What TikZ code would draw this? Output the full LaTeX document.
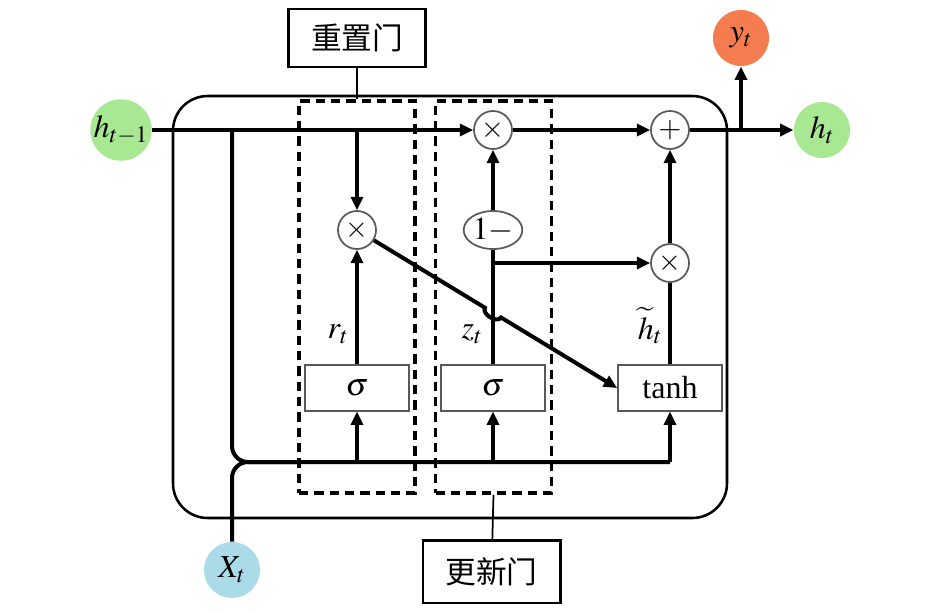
\documentclass[tikz,border=0pt]{standalone}
\usepackage{mathptmx}
\usepackage{fontspec}
\setmainfont{Liberation Serif}
\newfontfamily\cjk{Noto Sans CJK SC}
\usetikzlibrary{arrows.meta,calc,shapes.geometric}

\definecolor{hgreen}{RGB}{168,232,146}
\definecolor{yorange}{RGB}{244,124,78}
\definecolor{xblue}{RGB}{170,219,233}

\tikzset{every picture/.style={line width=0.75pt}}
\tikzset{
  flow/.style={line width=3pt},
  arr/.style={flow,-{Triangle[length=10pt,width=9pt]}},
  opcirc/.style={circle,draw=black!65,fill=white,line width=1.3pt,minimum size=28.5pt,inner sep=0pt,font=\fontsize{22}{22}\selectfont},
  iocirc/.style={circle,minimum size=42pt,inner sep=0pt,font=\fontsize{24}{26}\selectfont},
  actbox/.style={rectangle,draw=black!65,fill=white,line width=1.3pt,minimum width=78pt,minimum height=34pt,inner sep=0pt,font=\fontsize{24}{26}\selectfont},
  gatebox/.style={rectangle,draw,dash pattern=on 7pt off 4.5pt,line width=2.6pt,minimum width=87pt,minimum height=294pt,inner sep=0pt},
  namebox/.style={rectangle,draw,line width=2pt,minimum width=103pt,inner sep=0pt,font=\cjk\fontsize{23}{25}\selectfont},
  sublbl/.style={inner sep=0.75pt,font=\fontsize{24}{26}\selectfont},
}

\begin{document}
\begin{tikzpicture}[x=0.75pt,y=0.75pt,yscale=-1,xscale=1]
\useasboundingbox (0,0) rectangle (945,612);

%Shape: Rounded Rect [cell]
\draw[line width=1.9pt, rounded corners=26pt] (173,96) rectangle (727,518);

%Shape: dashed gate areas
\node[gatebox] (rgate) at (357,297) {};
\node[gatebox] (zgate) at (493.5,297) {};

%Shape: Circle [inputs / outputs]
\node[iocirc, fill=hgreen] (hprev) at (121,130) {$h_{t-1}$};
\node[iocirc, fill=hgreen] (hcur) at (822,130) {$h_t$};
\node[iocirc, fill=yorange] (yout) at (741,38) {$y_t$};
\node[iocirc, fill=xblue] (xin) at (232,570) {$X_t$};

%Shape: Circle [operators]
\node[opcirc] (mulr) at (357,230) {$\times$};
\node[opcirc] (mulz) at (493,130) {$\times$};
\node[opcirc] (addh) at (670,130) {$+$};
\node[opcirc] (mulh) at (670,263) {$\times$};
%Shape: Ellipse
\node[ellipse, draw=black!65, fill=white, line width=1.3pt, minimum width=44pt, minimum height=28.5pt, inner sep=0pt, font=\fontsize{24}{26}\selectfont] (omz) at (493,230) {$1-$};

%Shape: Rectangle [activations]
\node[actbox] (sigr) at (357,388) {$\sigma$};
\node[actbox] (sigz) at (493,388) {$\sigma$};
\node[actbox] (tanhb) at (670,388) {tanh};

%Shape: Rectangle [gate names]
\node[namebox, minimum height=43.5pt] (resetlbl) at (357,38) {重置门};
\node[namebox, minimum height=47pt] (updatelbl) at (491.5,571.5) {更新门};

\coordinate (j1) at (232,130);
\coordinate (bus) at (670,462);
\coordinate (busx) at (300,462);

%Straight Lines [h_{t-1} path]
\draw[arr] (hprev) -- (mulz);
\draw[arr] (mulz) -- (addh);
\draw[arr] (addh) -- (hcur);
\draw[arr] (mulr |- hprev) -- (mulr);
\draw[arr] (yout |- hprev) -- (yout);

%Straight Lines [input bus]
\draw[flow, rounded corners=12pt] (j1) |- (bus);
\draw[flow, rounded corners=12pt] (xin.north) |- (busx);
\draw[arr] (bus) -- (tanhb);
\draw[arr] (sigr |- bus) -- (sigr);
\draw[arr] (sigz |- bus) -- (sigz);

%Straight Lines [gates]
\draw[arr] (sigr) -- (mulr);
\draw[flow] (sigz) -- (omz);
\draw[arr] (omz) -- (mulz);
\draw[arr] (sigz |- mulh) -- (mulh);
\draw[flow] (tanhb) -- (mulh);
\draw[arr] (mulh) -- (addh);

%Line with hop over z_t
\coordinate (hop) at (intersection of mulr.center--tanhb.west and sigz.center--omz.center);
\draw[arr] (mulr) -- ($(hop)!7pt!(mulr)$) to[bend left=90] ($(hop)!7pt!(tanhb.west)$) -- (tanhb.west);

%Straight Lines [name pointers]
\draw[line width=1.3pt] (resetlbl) -- (rgate.north);
\draw[line width=1.3pt] (zgate.south) -- (updatelbl);

% Text Node
\node[sublbl] (rlbl) at (338,334) {$r_t$};
% Text Node
\node[sublbl] (zlbl) at (472,334) {$z_t$};
% Text Node
\node[sublbl] (hlbl) at (650,326) {$\widetilde{h}_t$};

\end{tikzpicture}
\end{document}
